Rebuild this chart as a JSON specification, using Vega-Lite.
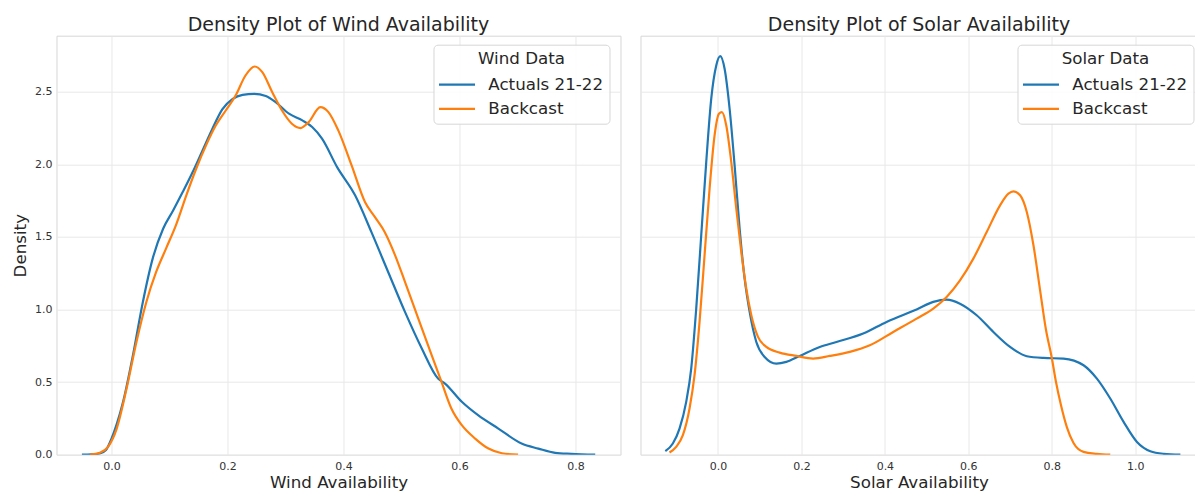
{
  "$schema": "https://vega.github.io/schema/vega-lite/v6.json",
  "background": "white",
  "padding": {"left": 11.5, "top": 14.7, "right": 0, "bottom": 0},
  "config": {
    "font": "DejaVu Sans",
    "view": {"stroke": "#d6d6d6", "strokeWidth": 1},
    "title": {"font": "DejaVu Sans", "fontSize": 19, "fontWeight": "normal", "color": "#262626", "offset": 1, "anchor": "middle"},
    "axis": {
      "labelFont": "DejaVu Sans", "labelFontSize": 11, "labelColor": "#333333",
      "titleFont": "DejaVu Sans", "titleFontSize": 16.7, "titleFontWeight": "normal", "titleColor": "#262626",
      "gridColor": "#e8e8e8", "gridWidth": 1, "domain": false, "ticks": false
    },
    "legend": {
      "titleFont": "DejaVu Sans", "titleFontSize": 16.7, "titleFontWeight": "normal", "titleColor": "#262626",
      "labelFont": "DejaVu Sans", "labelFontSize": 16.7, "labelColor": "#262626",
      "fillColor": "rgba(255,255,255,0.85)", "strokeColor": "#d6d6d6", "cornerRadius": 4,
      "padding": 6, "titlePadding": 6.7, "rowPadding": 4.2, "labelOffset": 20.8,
      "symbolType": "M-2,0L2,0", "symbolSize": 324, "symbolOffset": 7, "symbolStrokeWidth": 2.2, "titleAnchor": "middle"
    }
  },
  "datasets": {
    "wind": [
      {"v": -0.051, "d": 0.0, "s": "Actuals 21-22"},
      {"v": -0.035, "d": 0.002, "s": "Actuals 21-22"},
      {"v": -0.02, "d": 0.008, "s": "Actuals 21-22"},
      {"v": -0.01, "d": 0.03, "s": "Actuals 21-22"},
      {"v": 0.0, "d": 0.11, "s": "Actuals 21-22"},
      {"v": 0.009, "d": 0.21, "s": "Actuals 21-22"},
      {"v": 0.02, "d": 0.364, "s": "Actuals 21-22"},
      {"v": 0.037, "d": 0.685, "s": "Actuals 21-22"},
      {"v": 0.054, "d": 1.05, "s": "Actuals 21-22"},
      {"v": 0.071, "d": 1.35, "s": "Actuals 21-22"},
      {"v": 0.089, "d": 1.556, "s": "Actuals 21-22"},
      {"v": 0.106, "d": 1.68, "s": "Actuals 21-22"},
      {"v": 0.123, "d": 1.81, "s": "Actuals 21-22"},
      {"v": 0.14, "d": 1.946, "s": "Actuals 21-22"},
      {"v": 0.157, "d": 2.095, "s": "Actuals 21-22"},
      {"v": 0.174, "d": 2.245, "s": "Actuals 21-22"},
      {"v": 0.191, "d": 2.378, "s": "Actuals 21-22"},
      {"v": 0.209, "d": 2.45, "s": "Actuals 21-22"},
      {"v": 0.226, "d": 2.478, "s": "Actuals 21-22"},
      {"v": 0.246, "d": 2.485, "s": "Actuals 21-22"},
      {"v": 0.266, "d": 2.47, "s": "Actuals 21-22"},
      {"v": 0.283, "d": 2.428, "s": "Actuals 21-22"},
      {"v": 0.306, "d": 2.348, "s": "Actuals 21-22"},
      {"v": 0.329, "d": 2.302, "s": "Actuals 21-22"},
      {"v": 0.346, "d": 2.256, "s": "Actuals 21-22"},
      {"v": 0.363, "d": 2.176, "s": "Actuals 21-22"},
      {"v": 0.389, "d": 1.98, "s": "Actuals 21-22"},
      {"v": 0.42, "d": 1.786, "s": "Actuals 21-22"},
      {"v": 0.448, "d": 1.534, "s": "Actuals 21-22"},
      {"v": 0.477, "d": 1.258, "s": "Actuals 21-22"},
      {"v": 0.506, "d": 0.983, "s": "Actuals 21-22"},
      {"v": 0.535, "d": 0.731, "s": "Actuals 21-22"},
      {"v": 0.563, "d": 0.524, "s": "Actuals 21-22"},
      {"v": 0.575, "d": 0.49, "s": "Actuals 21-22"},
      {"v": 0.604, "d": 0.364, "s": "Actuals 21-22"},
      {"v": 0.632, "d": 0.272, "s": "Actuals 21-22"},
      {"v": 0.667, "d": 0.18, "s": "Actuals 21-22"},
      {"v": 0.707, "d": 0.077, "s": "Actuals 21-22"},
      {"v": 0.736, "d": 0.042, "s": "Actuals 21-22"},
      {"v": 0.765, "d": 0.013, "s": "Actuals 21-22"},
      {"v": 0.793, "d": 0.006, "s": "Actuals 21-22"},
      {"v": 0.834, "d": 0.0, "s": "Actuals 21-22"},
      {"v": -0.037, "d": 0.0, "s": "Backcast"},
      {"v": -0.02, "d": 0.013, "s": "Backcast"},
      {"v": -0.006, "d": 0.054, "s": "Backcast"},
      {"v": 0.009, "d": 0.18, "s": "Backcast"},
      {"v": 0.026, "d": 0.455, "s": "Backcast"},
      {"v": 0.043, "d": 0.776, "s": "Backcast"},
      {"v": 0.06, "d": 1.05, "s": "Backcast"},
      {"v": 0.077, "d": 1.258, "s": "Backcast"},
      {"v": 0.094, "d": 1.419, "s": "Backcast"},
      {"v": 0.111, "d": 1.579, "s": "Backcast"},
      {"v": 0.129, "d": 1.786, "s": "Backcast"},
      {"v": 0.146, "d": 1.969, "s": "Backcast"},
      {"v": 0.163, "d": 2.13, "s": "Backcast"},
      {"v": 0.18, "d": 2.268, "s": "Backcast"},
      {"v": 0.197, "d": 2.37, "s": "Backcast"},
      {"v": 0.214, "d": 2.473, "s": "Backcast"},
      {"v": 0.231, "d": 2.611, "s": "Backcast"},
      {"v": 0.247, "d": 2.673, "s": "Backcast"},
      {"v": 0.26, "d": 2.634, "s": "Backcast"},
      {"v": 0.277, "d": 2.497, "s": "Backcast"},
      {"v": 0.294, "d": 2.37, "s": "Backcast"},
      {"v": 0.311, "d": 2.279, "s": "Backcast"},
      {"v": 0.326, "d": 2.249, "s": "Backcast"},
      {"v": 0.34, "d": 2.29, "s": "Backcast"},
      {"v": 0.36, "d": 2.393, "s": "Backcast"},
      {"v": 0.374, "d": 2.359, "s": "Backcast"},
      {"v": 0.391, "d": 2.233, "s": "Backcast"},
      {"v": 0.414, "d": 1.992, "s": "Backcast"},
      {"v": 0.437, "d": 1.74, "s": "Backcast"},
      {"v": 0.454, "d": 1.637, "s": "Backcast"},
      {"v": 0.471, "d": 1.534, "s": "Backcast"},
      {"v": 0.489, "d": 1.373, "s": "Backcast"},
      {"v": 0.506, "d": 1.19, "s": "Backcast"},
      {"v": 0.529, "d": 0.937, "s": "Backcast"},
      {"v": 0.552, "d": 0.685, "s": "Backcast"},
      {"v": 0.569, "d": 0.501, "s": "Backcast"},
      {"v": 0.586, "d": 0.318, "s": "Backcast"},
      {"v": 0.604, "d": 0.203, "s": "Backcast"},
      {"v": 0.627, "d": 0.111, "s": "Backcast"},
      {"v": 0.65, "d": 0.042, "s": "Backcast"},
      {"v": 0.673, "d": 0.01, "s": "Backcast"},
      {"v": 0.701, "d": 0.0, "s": "Backcast"}
    ],
    "solar": [
      {"v": -0.126, "d": 0.024, "s": "Actuals 21-22"},
      {"v": -0.108, "d": 0.077, "s": "Actuals 21-22"},
      {"v": -0.092, "d": 0.18, "s": "Actuals 21-22"},
      {"v": -0.076, "d": 0.364, "s": "Actuals 21-22"},
      {"v": -0.064, "d": 0.593, "s": "Actuals 21-22"},
      {"v": -0.052, "d": 1.006, "s": "Actuals 21-22"},
      {"v": -0.04, "d": 1.511, "s": "Actuals 21-22"},
      {"v": -0.028, "d": 2.015, "s": "Actuals 21-22"},
      {"v": -0.016, "d": 2.451, "s": "Actuals 21-22"},
      {"v": -0.004, "d": 2.68, "s": "Actuals 21-22"},
      {"v": 0.0056, "d": 2.744, "s": "Actuals 21-22"},
      {"v": 0.016, "d": 2.657, "s": "Actuals 21-22"},
      {"v": 0.028, "d": 2.382, "s": "Actuals 21-22"},
      {"v": 0.04, "d": 1.992, "s": "Actuals 21-22"},
      {"v": 0.052, "d": 1.556, "s": "Actuals 21-22"},
      {"v": 0.064, "d": 1.212, "s": "Actuals 21-22"},
      {"v": 0.076, "d": 0.983, "s": "Actuals 21-22"},
      {"v": 0.092, "d": 0.776, "s": "Actuals 21-22"},
      {"v": 0.112, "d": 0.673, "s": "Actuals 21-22"},
      {"v": 0.14, "d": 0.627, "s": "Actuals 21-22"},
      {"v": 0.164, "d": 0.639, "s": "Actuals 21-22"},
      {"v": 0.196, "d": 0.68, "s": "Actuals 21-22"},
      {"v": 0.244, "d": 0.742, "s": "Actuals 21-22"},
      {"v": 0.284, "d": 0.776, "s": "Actuals 21-22"},
      {"v": 0.348, "d": 0.834, "s": "Actuals 21-22"},
      {"v": 0.404, "d": 0.914, "s": "Actuals 21-22"},
      {"v": 0.476, "d": 1.0, "s": "Actuals 21-22"},
      {"v": 0.516, "d": 1.052, "s": "Actuals 21-22"},
      {"v": 0.548, "d": 1.068, "s": "Actuals 21-22"},
      {"v": 0.58, "d": 1.04, "s": "Actuals 21-22"},
      {"v": 0.62, "d": 0.96, "s": "Actuals 21-22"},
      {"v": 0.66, "d": 0.845, "s": "Actuals 21-22"},
      {"v": 0.7, "d": 0.742, "s": "Actuals 21-22"},
      {"v": 0.74, "d": 0.678, "s": "Actuals 21-22"},
      {"v": 0.78, "d": 0.666, "s": "Actuals 21-22"},
      {"v": 0.828, "d": 0.662, "s": "Actuals 21-22"},
      {"v": 0.876, "d": 0.616, "s": "Actuals 21-22"},
      {"v": 0.908, "d": 0.524, "s": "Actuals 21-22"},
      {"v": 0.94, "d": 0.387, "s": "Actuals 21-22"},
      {"v": 0.972, "d": 0.226, "s": "Actuals 21-22"},
      {"v": 1.004, "d": 0.088, "s": "Actuals 21-22"},
      {"v": 1.036, "d": 0.024, "s": "Actuals 21-22"},
      {"v": 1.068, "d": 0.006, "s": "Actuals 21-22"},
      {"v": 1.108, "d": 0.0, "s": "Actuals 21-22"},
      {"v": -0.116, "d": 0.015, "s": "Backcast"},
      {"v": -0.1, "d": 0.054, "s": "Backcast"},
      {"v": -0.084, "d": 0.134, "s": "Backcast"},
      {"v": -0.068, "d": 0.318, "s": "Backcast"},
      {"v": -0.056, "d": 0.547, "s": "Backcast"},
      {"v": -0.044, "d": 0.914, "s": "Backcast"},
      {"v": -0.032, "d": 1.373, "s": "Backcast"},
      {"v": -0.02, "d": 1.831, "s": "Backcast"},
      {"v": -0.008, "d": 2.198, "s": "Backcast"},
      {"v": 0.0024, "d": 2.347, "s": "Backcast"},
      {"v": 0.0096, "d": 2.359, "s": "Backcast"},
      {"v": 0.02, "d": 2.267, "s": "Backcast"},
      {"v": 0.032, "d": 2.015, "s": "Backcast"},
      {"v": 0.044, "d": 1.694, "s": "Backcast"},
      {"v": 0.056, "d": 1.396, "s": "Backcast"},
      {"v": 0.068, "d": 1.143, "s": "Backcast"},
      {"v": 0.08, "d": 0.96, "s": "Backcast"},
      {"v": 0.096, "d": 0.811, "s": "Backcast"},
      {"v": 0.116, "d": 0.742, "s": "Backcast"},
      {"v": 0.148, "d": 0.703, "s": "Backcast"},
      {"v": 0.188, "d": 0.68, "s": "Backcast"},
      {"v": 0.228, "d": 0.662, "s": "Backcast"},
      {"v": 0.268, "d": 0.68, "s": "Backcast"},
      {"v": 0.316, "d": 0.708, "s": "Backcast"},
      {"v": 0.364, "d": 0.753, "s": "Backcast"},
      {"v": 0.42, "d": 0.845, "s": "Backcast"},
      {"v": 0.476, "d": 0.937, "s": "Backcast"},
      {"v": 0.516, "d": 1.006, "s": "Backcast"},
      {"v": 0.548, "d": 1.086, "s": "Backcast"},
      {"v": 0.58, "d": 1.2, "s": "Backcast"},
      {"v": 0.612, "d": 1.35, "s": "Backcast"},
      {"v": 0.644, "d": 1.533, "s": "Backcast"},
      {"v": 0.676, "d": 1.717, "s": "Backcast"},
      {"v": 0.696, "d": 1.797, "s": "Backcast"},
      {"v": 0.708, "d": 1.813, "s": "Backcast"},
      {"v": 0.724, "d": 1.786, "s": "Backcast"},
      {"v": 0.74, "d": 1.671, "s": "Backcast"},
      {"v": 0.756, "d": 1.442, "s": "Backcast"},
      {"v": 0.772, "d": 1.13, "s": "Backcast"},
      {"v": 0.786, "d": 0.86, "s": "Backcast"},
      {"v": 0.8, "d": 0.666, "s": "Backcast"},
      {"v": 0.81, "d": 0.5, "s": "Backcast"},
      {"v": 0.822, "d": 0.34, "s": "Backcast"},
      {"v": 0.836, "d": 0.19, "s": "Backcast"},
      {"v": 0.852, "d": 0.08, "s": "Backcast"},
      {"v": 0.876, "d": 0.019, "s": "Backcast"},
      {"v": 0.908, "d": 0.006, "s": "Backcast"},
      {"v": 0.94, "d": 0.0, "s": "Backcast"}
    ]
  },
  "spacing": 18,
  "resolve": {"scale": {"color": "independent", "x": "independent", "y": "independent"}, "legend": {"color": "independent"}},
  "hconcat": [
    {
      "width": 564, "height": 419,
      "title": "Density Plot of Wind Availability",
      "data": {"name": "wind"},
      "mark": {"type": "line", "strokeWidth": 2.2, "interpolate": "monotone", "clip": true},
      "encoding": {
        "x": {"field": "v", "type": "quantitative", "scale": {"domain": [-0.0948, 0.8776], "nice": false, "zero": false},
              "axis": {"values": [0, 0.2, 0.4, 0.6, 0.8], "format": ".1f", "title": "Wind Availability", "labelPadding": 5.5, "titlePadding": 3}},
        "y": {"field": "d", "type": "quantitative", "scale": {"domain": [0, 2.885], "nice": false, "zero": false},
              "axis": {"values": [0, 0.5, 1, 1.5, 2, 2.5], "format": ".1f", "title": "Density", "labelPadding": 4.5, "titlePadding": 5}},
        "color": {"field": "s", "type": "nominal",
                  "scale": {"domain": ["Actuals 21-22", "Backcast"], "range": ["#1f77b4", "#ff7f0e"]},
                  "legend": {"title": "Wind Data", "orient": "none", "legendX": 377, "legendY": 9}}
      }
    },
    {
      "width": 557, "height": 419,
      "title": "Density Plot of Solar Availability",
      "data": {"name": "solar"},
      "mark": {"type": "line", "strokeWidth": 2.2, "interpolate": "monotone", "clip": true},
      "encoding": {
        "x": {"field": "v", "type": "quantitative", "scale": {"domain": [-0.1855, 1.149], "nice": false, "zero": false},
              "axis": {"values": [0, 0.2, 0.4, 0.6, 0.8, 1.0], "format": ".1f", "title": "Solar Availability", "labelPadding": 5.5, "titlePadding": 3}},
        "y": {"field": "d", "type": "quantitative", "scale": {"domain": [0, 2.885], "nice": false, "zero": false},
              "axis": {"values": [0, 0.5, 1, 1.5, 2, 2.5], "labels": false, "title": null, "minExtent": 0, "maxExtent": 0}},
        "color": {"field": "s", "type": "nominal",
                  "scale": {"domain": ["Actuals 21-22", "Backcast"], "range": ["#1f77b4", "#ff7f0e"]},
                  "legend": {"title": "Solar Data", "orient": "none", "legendX": 377, "legendY": 9}}
      }
    }
  ]
}
